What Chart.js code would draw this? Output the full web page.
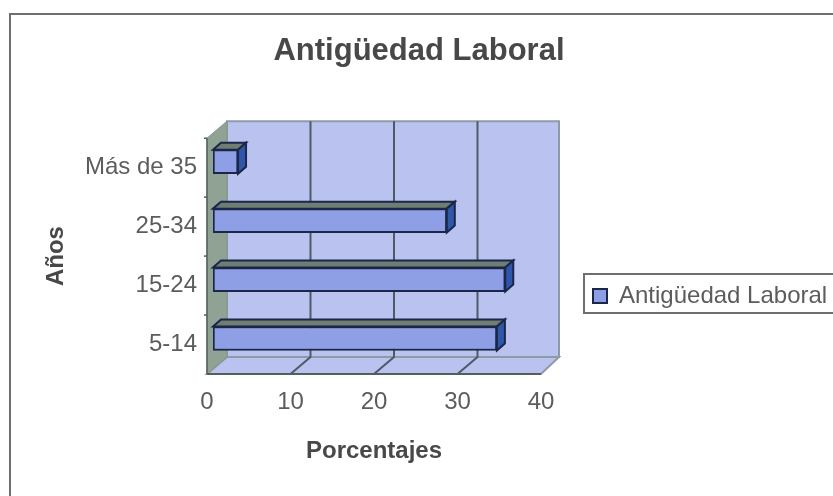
<!DOCTYPE html>
<html>
<head>
<meta charset="utf-8">
<style>html,body{margin:0;padding:0;background:#fff}#w{width:833px;height:496px}canvas{filter:blur(0.5px)}</style>
<script src="https://cdn.jsdelivr.net/npm/chart.js@4"></script>
</head>
<body>
<div id="w"><canvas id="c" width="833" height="496"></canvas></div>
<script>
const categories = ['Más de 35', '25-34', '15-24', '5-14'];
const porcentajes = [3, 28, 35, 34];
const seriesName = 'Antigüedad Laboral';
const xTicks = [0, 10, 20, 30, 40];

const FONT = '"Liberation Sans", Arial, sans-serif';
const TEXT = '#5c5c5c';
const WALL_DX = 20, WALL_DY = 17;   // depth of the plot box
const BAR_DX = 6, BAR_DY = -6;      // where the bars sit inside the box
const FACE_DX = 8, FACE_DY = 7;     // depth of each bar

function poly(ctx, pts, fill, stroke, lw) {
  ctx.beginPath();
  pts.forEach((p, i) => i ? ctx.lineTo(p[0], p[1]) : ctx.moveTo(p[0], p[1]));
  ctx.closePath();
  if (fill) { ctx.fillStyle = fill; ctx.fill(); }
  if (stroke) { ctx.strokeStyle = stroke; ctx.lineWidth = lw || 1; ctx.stroke(); }
}

const box3d = {
  id: 'box3d',
  afterLayout(chart) {
    const l = chart.legend;
    l.left = 583; l.right = 833; l.top = 274; l.bottom = 314;
    const t = chart.titleBlock;
    t.left = 0; t.right = 838; t.width = 838;
  },
  beforeDatasetsDraw(chart) {
    const { ctx, chartArea: a, scales: { x, y } } = chart;
    const L = a.left, R = a.right, T = a.top, B = a.bottom;
    const dx = WALL_DX, dy = WALL_DY;
    ctx.save();
    poly(ctx, [[L + dx, T - dy], [R + dx - 2, T - dy], [R + dx - 2, B - dy], [L + dx, B - dy]], '#bac2f0', '#8f9aa6', 2);
    poly(ctx, [[L, B], [L + dx, B - dy], [R + dx - 2, B - dy], [R, B]], '#bac2f0', '#8f9aa6', 2);
    poly(ctx, [[L, T], [L + dx, T - dy], [L + dx, B - dy], [L, B]], '#8fa294', '#84958a', 1);
    ctx.strokeStyle = '#4d5a68';
    ctx.lineWidth = 2;
    xTicks.slice(1, -1).forEach(v => {
      const px = x.getPixelForValue(v);
      ctx.beginPath();
      ctx.moveTo(px + dx, T - dy);
      ctx.lineTo(px + dx, B - dy);
      ctx.lineTo(px, B);
      ctx.stroke();
    });
    ctx.strokeStyle = '#4f6158';
    ctx.beginPath(); ctx.moveTo(L, B); ctx.lineTo(R, B); ctx.stroke();
    ctx.lineWidth = 1.5;
    ctx.beginPath(); ctx.moveTo(L, T); ctx.lineTo(L, B); ctx.stroke();
    y.ticks.forEach((t, i) => {
      const py = i === 0 ? T : (y.getPixelForTick(i) + y.getPixelForTick(i - 1)) / 2;
      ctx.beginPath(); ctx.moveTo(L - 3, py); ctx.lineTo(L, py); ctx.stroke();
    });
    ctx.restore();
    ctx.save();
    ctx.translate(BAR_DX, BAR_DY);
  },
  afterDatasetsDraw(chart) {
    const { ctx } = chart;
    chart.getDatasetMeta(0).data.forEach(b => {
      const top = b.y - b.height / 2, bot = b.y + b.height / 2;
      poly(ctx, [[b.base, top], [b.base + FACE_DX, top - FACE_DY], [b.x + FACE_DX, top - FACE_DY], [b.x, top]], '#6f7d72', '#1b2748', 2);
      poly(ctx, [[b.x, top], [b.x + FACE_DX, top - FACE_DY], [b.x + FACE_DX, bot - FACE_DY], [b.x, bot]], '#2f56a8', '#1b2748', 2);
    });
    ctx.restore();
  },
  afterDraw(chart) {
    const { ctx } = chart;
    const l = chart.legend;
    ctx.save();
    ctx.strokeStyle = '#6e6e6e';
    ctx.lineWidth = 2;
    ctx.beginPath(); ctx.moveTo(10, 496); ctx.lineTo(10, 14); ctx.lineTo(833, 14); ctx.stroke();
    ctx.beginPath(); ctx.moveTo(833, l.top); ctx.lineTo(l.left + 1, l.top); ctx.lineTo(l.left + 1, l.bottom - 1); ctx.lineTo(833, l.bottom - 1); ctx.stroke();
    ctx.restore();
  }
};

new Chart(document.getElementById('c'), {
  type: 'bar',
  data: {
    labels: categories,
    datasets: [{
      label: seriesName,
      data: porcentajes,
      backgroundColor: '#8f9fe6',
      borderColor: '#1b2748',
      borderWidth: 2,
      borderSkipped: false,
      barThickness: 24
    }]
  },
  plugins: [box3d],
  options: {
    indexAxis: 'y',
    responsive: false,
    animation: false,
    layout: { padding: { left: 0, right: 292, top: 0, bottom: 30 } },
    plugins: {
      tooltip: { enabled: false },
      title: {
        display: true,
        text: 'Antigüedad Laboral',
        color: '#484848',
        font: { family: FONT, size: 31, weight: 'bold' },
        padding: { top: 33, bottom: 68 }
      },
      legend: {
        display: true,
        position: 'chartArea',
        align: 'start',
        labels: {
          color: TEXT,
          boxWidth: 14,
          boxHeight: 14,
          padding: 10,
          font: { family: FONT, size: 24 }
        }
      }
    },
    scales: {
      x: {
        min: 0, max: 40,
        afterFit(s) { s.height = 92; },
        afterBuildTicks(s) { s.ticks = xTicks.map(v => ({ value: v })); },
        grid: { display: false },
        border: { display: false },
        ticks: { color: TEXT, font: { family: FONT, size: 24 }, padding: 6, maxRotation: 0 },
        title: {
          display: true,
          text: 'Porcentajes',
          color: '#484848',
          font: { family: FONT, size: 24, weight: 'bold' },
          padding: { top: 12, bottom: 0 }
        }
      },
      y: {
        afterFit(s) { s.width = 207; },
        grid: { display: false },
        border: { display: false },
        ticks: { color: TEXT, font: { family: FONT, size: 24 }, padding: 2 },
        title: {
          display: true,
          text: 'Años',
          color: '#484848',
          font: { family: FONT, size: 24, weight: 'bold' },
          padding: { top: 42, bottom: 0 }
        }
      }
    }
  }
});
</script>
</body>
</html>
